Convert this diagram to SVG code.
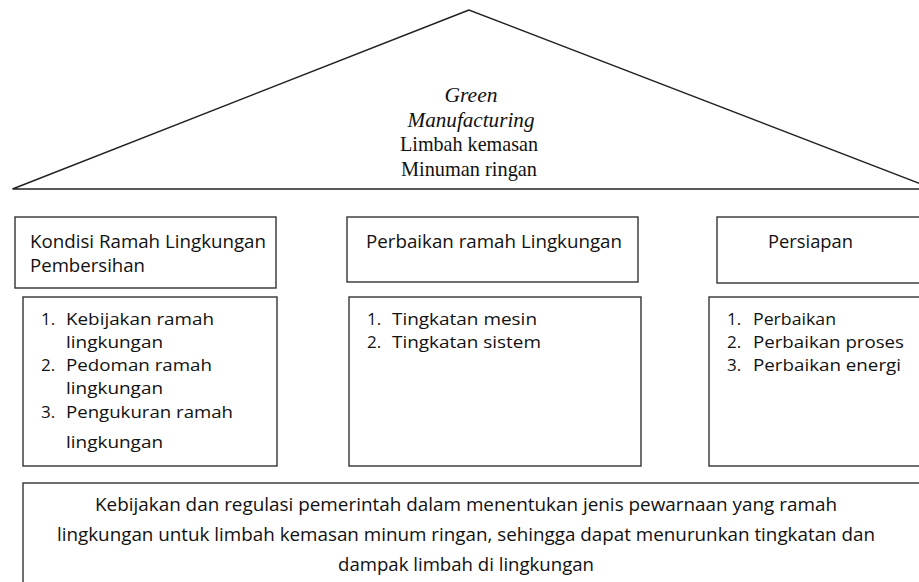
<svg xmlns="http://www.w3.org/2000/svg" width="919" height="582" viewBox="0 0 919 582">
<style>
.roof{fill:#fff;stroke:#222;stroke-width:1.5}
.box{fill:#fff;stroke:#333;stroke-width:1.4}
.serif{font-family:"Liberation Serif","Times New Roman",serif;font-size:22px;fill:#111;text-anchor:middle}
.it{font-style:italic}
.sans{font-family:"Open Sans","Liberation Sans",sans-serif;font-size:18px;fill:#111}
.li{font-size:17px}
.mid{text-anchor:middle}
</style>
<rect width="919" height="582" fill="#fff"/>
<g id="roof">
<polygon class="roof" points="469,10 12.5,189 934,189"/>
<text class="serif it" x="471" y="102" textLength="53" lengthAdjust="spacingAndGlyphs">Green</text>
<text class="serif it" x="471" y="127" textLength="127" lengthAdjust="spacingAndGlyphs">Manufacturing</text>
<text class="serif" x="469" y="151" textLength="138" lengthAdjust="spacingAndGlyphs">Limbah kemasan</text>
<text class="serif" x="469" y="176" textLength="136" lengthAdjust="spacingAndGlyphs">Minuman ringan</text>
</g>
<g id="header1">
<rect class="box" x="15" y="217" width="261" height="71"/>
<text class="sans" x="30" y="248" textLength="236" lengthAdjust="spacingAndGlyphs">Kondisi Ramah Lingkungan</text>
<text class="sans" x="30" y="272" textLength="115" lengthAdjust="spacingAndGlyphs">Pembersihan</text>
</g>
<g id="list1">
<rect class="box" x="23" y="297" width="254" height="169"/>
<text class="sans li" x="41" y="325">1.</text>
<text class="sans li" x="66" y="325" textLength="148" lengthAdjust="spacingAndGlyphs">Kebijakan ramah</text>
<text class="sans li" x="66" y="348" textLength="97" lengthAdjust="spacingAndGlyphs">lingkungan</text>
<text class="sans li" x="41" y="371">2.</text>
<text class="sans li" x="66" y="371" textLength="146" lengthAdjust="spacingAndGlyphs">Pedoman ramah</text>
<text class="sans li" x="66" y="394" textLength="97" lengthAdjust="spacingAndGlyphs">lingkungan</text>
<text class="sans li" x="41" y="418">3.</text>
<text class="sans li" x="66" y="418" textLength="167" lengthAdjust="spacingAndGlyphs">Pengukuran ramah</text>
<text class="sans li" x="66" y="448" textLength="97" lengthAdjust="spacingAndGlyphs">lingkungan</text>
</g>
<g id="header2">
<rect class="box" x="347" y="217" width="291" height="65"/>
<text class="sans" x="366" y="248" textLength="256" lengthAdjust="spacingAndGlyphs">Perbaikan ramah Lingkungan</text>
</g>
<g id="list2">
<rect class="box" x="349" y="297" width="292" height="169"/>
<text class="sans li" x="367" y="325">1.</text>
<text class="sans li" x="392" y="325" textLength="145" lengthAdjust="spacingAndGlyphs">Tingkatan mesin</text>
<text class="sans li" x="367" y="348">2.</text>
<text class="sans li" x="392" y="348" textLength="149" lengthAdjust="spacingAndGlyphs">Tingkatan sistem</text>
</g>
<g id="header3">
<rect class="box" x="717" y="217" width="240" height="66"/>
<text class="sans" x="768" y="248" textLength="85" lengthAdjust="spacingAndGlyphs">Persiapan</text>
</g>
<g id="list3">
<rect class="box" x="709" y="297" width="240" height="169"/>
<text class="sans li" x="727" y="325">1.</text>
<text class="sans li" x="753" y="325" textLength="83" lengthAdjust="spacingAndGlyphs">Perbaikan</text>
<text class="sans li" x="727" y="348">2.</text>
<text class="sans li" x="753" y="348" textLength="151" lengthAdjust="spacingAndGlyphs">Perbaikan proses</text>
<text class="sans li" x="727" y="371">3.</text>
<text class="sans li" x="753" y="371" textLength="148" lengthAdjust="spacingAndGlyphs">Perbaikan energi</text>
</g>
<g id="policy">
<rect class="box" x="23" y="483" width="920" height="120"/>
<text class="sans mid" x="466" y="511" textLength="742" lengthAdjust="spacingAndGlyphs">Kebijakan dan regulasi pemerintah dalam menentukan jenis pewarnaan yang ramah</text>
<text class="sans mid" x="466" y="541" textLength="818" lengthAdjust="spacingAndGlyphs">lingkungan untuk limbah kemasan minum ringan, sehingga dapat menurunkan tingkatan dan</text>
<text class="sans mid" x="466" y="571" textLength="256" lengthAdjust="spacingAndGlyphs">dampak limbah di lingkungan</text>
</g>
<g id="connectors"/>
</svg>
